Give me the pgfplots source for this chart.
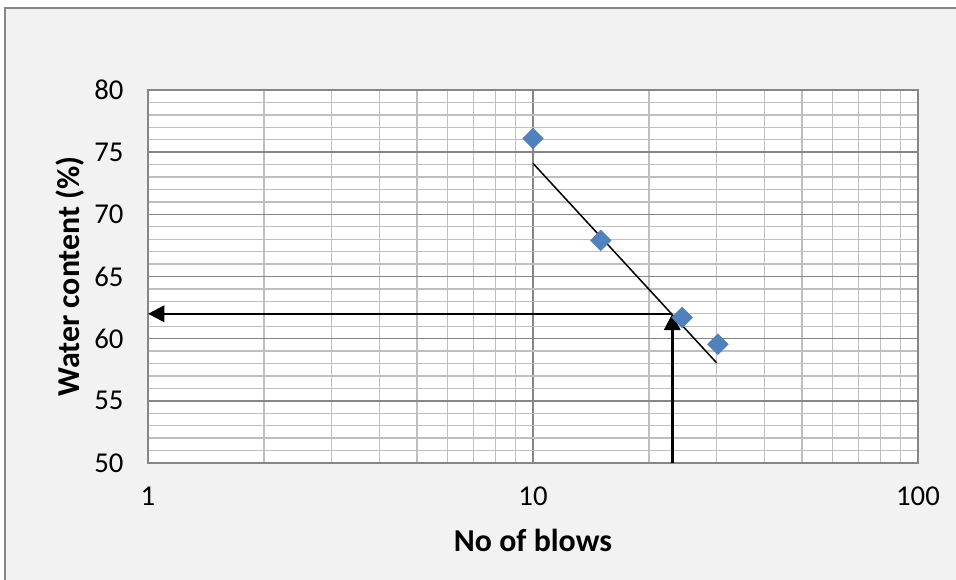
\documentclass[border=0pt]{standalone}
\usepackage{pgfplots}
\pgfplotsset{compat=1.18}
\usepackage{fontspec}
\setmainfont{Carlito}
\usetikzlibrary{arrows.meta}
\definecolor{bgc}{HTML}{F2F2F2}
\definecolor{framec}{HTML}{868686}
\definecolor{majgrid}{HTML}{868686}
\definecolor{mingrid}{HTML}{BFBFBF}
\definecolor{ptc}{HTML}{4F81BD}
\begin{document}
\begin{tikzpicture}
\path[use as bounding box] (-59.2pt,-46.8pt) rectangle (323.2pt,185.2pt);
\fill[white] (-59.2pt,-46.8pt) rectangle (323.2pt,185.2pt);
\fill[bgc] (-57.2pt,-46.8pt) rectangle (323.2pt,182pt);
\draw[framec, line width=0.5pt] (-57.2pt,-46.8pt) -- (-57.2pt,182pt) -- (323.2pt,182pt);
\begin{axis}[
  at={(0,0)}, anchor=south west,
  scale only axis, width=308pt, height=149.2pt,
  xmode=log, xmin=1, xmax=100, ymin=50, ymax=80,
  xtick={1,10,100}, xticklabels={1,10,100},
  ytick={50,55,...,80}, minor y tick num=4,
  grid=both,
  major grid style={majgrid, line width=0.55pt},
  minor grid style={mingrid, line width=0.55pt},
  major tick length=0pt, minor tick length=0pt,
  axis line style={framec, line width=0.55pt},
  axis background/.style={fill=white},
  /pgf/number format/assume math mode=true,
  tick label style={font=\fontsize{11.5pt}{13pt}\selectfont, text=black},
  xticklabel style={yshift=-6pt},
  yticklabel style={xshift=-6.3pt},
  xlabel={No of blows},
  ylabel={Water content (\%)},
  label style={font=\bfseries\fontsize{12.75pt}{15pt}\selectfont},
  xlabel style={at={(axis description cs:0.5,-0.236)}, anchor=base},
  ylabel style={at={(axis description cs:-0.1006,0.5)}, anchor=center, rotate=0},
]
\addplot[only marks, mark=square*, mark size=2.83pt, mark options={rotate=45, fill=ptc, draw=ptc}, color=ptc]
  coordinates {(10,76.1) (15,67.9) (24.4,61.7) (30.2,59.55)};
\addplot[black, line width=0.6pt] coordinates {(10,74.1) (30,58.05)};
\addplot[black, line width=1pt, -{Triangle[width=6.5pt,length=6.5pt]}] coordinates {(23,62) (1,62)};
\addplot[black, line width=1pt, -{Triangle[width=6.5pt,length=6.5pt]}] coordinates {(23,50) (23,62)};
\end{axis}
\end{tikzpicture}
\end{document}
